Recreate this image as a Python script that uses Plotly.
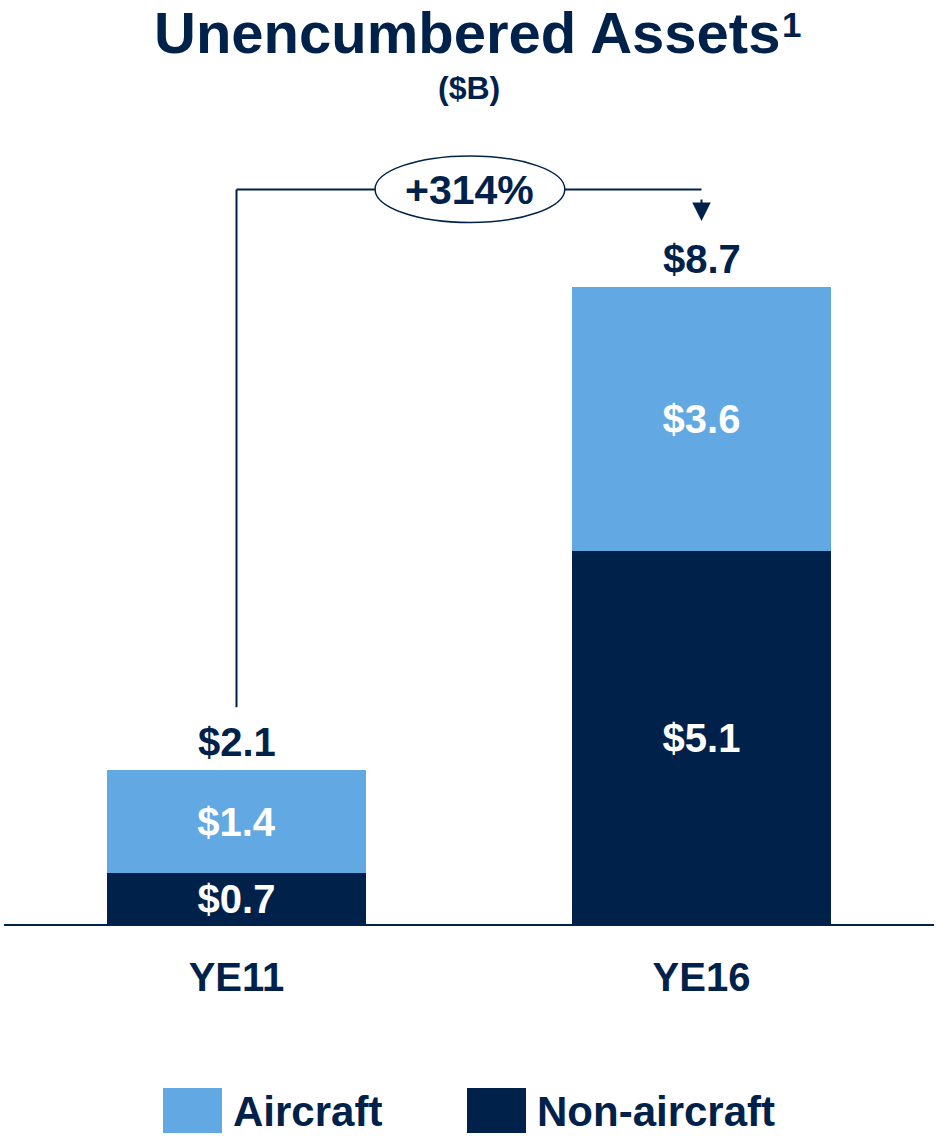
import plotly.graph_objects as go

categories = ["YE11", "YE16"]
non_aircraft = [0.7, 5.1]
aircraft = [1.4, 3.6]
totals = [2.1, 8.7]
growth_label = "+314%"

NAVY = "#00224A"
LIGHT = "#62A8E2"
FONT = "Liberation Sans, Arial, sans-serif"

xs = list(range(len(categories)))

fig = go.Figure()
fig.add_trace(go.Bar(
    x=xs, y=non_aircraft, name="Non-aircraft", marker=dict(color=NAVY, line=dict(width=0)),
    width=0.555, text=[f"${v:.1f}" for v in non_aircraft], textposition="inside",
    insidetextanchor="middle", textangle=0,
    textfont=dict(family=FONT, size=40, color="white", weight="bold"), showlegend=False,
))
fig.add_trace(go.Bar(
    x=xs, y=aircraft, name="Aircraft", marker=dict(color=LIGHT, line=dict(width=0)),
    width=0.555, text=[f"${v:.1f}" for v in aircraft], textposition="inside",
    insidetextanchor="middle", textangle=0,
    textfont=dict(family=FONT, size=40, color="white", weight="bold"), showlegend=False,
))

# totals above bars
for x, t in zip(xs, totals):
    fig.add_annotation(x=x, y=t, xref="x", yref="y", text=f"${t:.1f}", showarrow=False,
                       yanchor="bottom", yshift=4,
                       font=dict(family=FONT, size=40, color=NAVY, weight="bold"))

# bracket connector
y_top = 10.03
fig.add_shape(type="line", xref="x", yref="y", x0=xs[0], x1=xs[0], y0=totals[0] + 0.86, y1=y_top,
              line=dict(color=NAVY, width=2))
fig.add_shape(type="line", xref="x", yref="y", x0=xs[0], x1=xs[1], y0=y_top, y1=y_top,
              line=dict(color=NAVY, width=2))
fig.add_annotation(x=xs[1], y=totals[1] + 0.9, ax=xs[1], ay=y_top, xref="x", yref="y",
                   axref="x", ayref="y", showarrow=True, arrowhead=2, arrowsize=1.85,
                   arrowwidth=2, arrowcolor=NAVY, text=" ")
fig.add_shape(type="circle", xref="x", yref="y", x0=0.298, x1=0.706, y0=9.58, y1=10.49,
              fillcolor="white", line=dict(color=NAVY, width=1.5), layer="above")
fig.add_annotation(x=0.5, y=y_top, xref="x", yref="y", text=growth_label, showarrow=False,
                   yanchor="middle",
                   font=dict(family=FONT, size=41, color=NAVY, weight="bold"))

# title
W, H, L, T = 930.0, 804.0, 4.0, 120.0
def py(p):
    return (T + H - p) / H
def px_(p):
    return (p - L) / W

fig.add_annotation(x=px_(467), y=py(32), xref="paper", yref="paper", showarrow=False,
                   xanchor="center", yanchor="middle",
                   text="Unencumbered Assets",
                   font=dict(family=FONT, size=58, color=NAVY, weight="bold"))
fig.add_annotation(x=px_(780), y=py(25), xref="paper", yref="paper", showarrow=False,
                   xanchor="left", yanchor="middle", text="1",
                   font=dict(family=FONT, size=35, color=NAVY, weight="bold"))
fig.add_annotation(x=0.5, y=py(88), xref="paper", yref="paper", showarrow=False,
                   xanchor="center", yanchor="middle",
                   text="($B)", font=dict(family=FONT, size=32, color=NAVY, weight="bold"))

# legend (manual, large swatches)
legend_items = [("Aircraft", LIGHT, 163), ("Non-aircraft", NAVY, 467)]
for label, color, px in legend_items:
    fig.add_shape(type="rect", xref="paper", yref="paper",
                  x0=px_(px), x1=px_(px + 59),
                  y0=py(1088), y1=py(1133),
                  fillcolor=color, line=dict(width=0))
    fig.add_annotation(x=px_(px + 68), y=py(1111), xref="paper", yref="paper",
                       xanchor="left", yanchor="middle", showarrow=False, text=label,
                       font=dict(family=FONT, size=42, color=NAVY, weight="bold"))

fig.update_layout(
    width=938, height=1136, margin=dict(l=4, r=4, t=120, b=212),
    paper_bgcolor="white", plot_bgcolor="white", barmode="stack", bargap=0,
    uniformtext=dict(minsize=40, mode="show"),
    xaxis=dict(range=[-0.5, 1.5], tickvals=xs, ticktext=categories, showline=True,
               linecolor=NAVY, linewidth=2, showgrid=False, zeroline=False,
               ticks="outside", ticklen=17, tickcolor="rgba(0,0,0,0)",
               tickfont=dict(family=FONT, size=40, color=NAVY, weight="bold"), fixedrange=True),
    yaxis=dict(range=[0, 10.98], visible=False, showgrid=False, zeroline=False, fixedrange=True),
    showlegend=False,
)

fig.write_html("out.html", config={"displayModeBar": False},
               post_script="document.body.style.margin='0';")
